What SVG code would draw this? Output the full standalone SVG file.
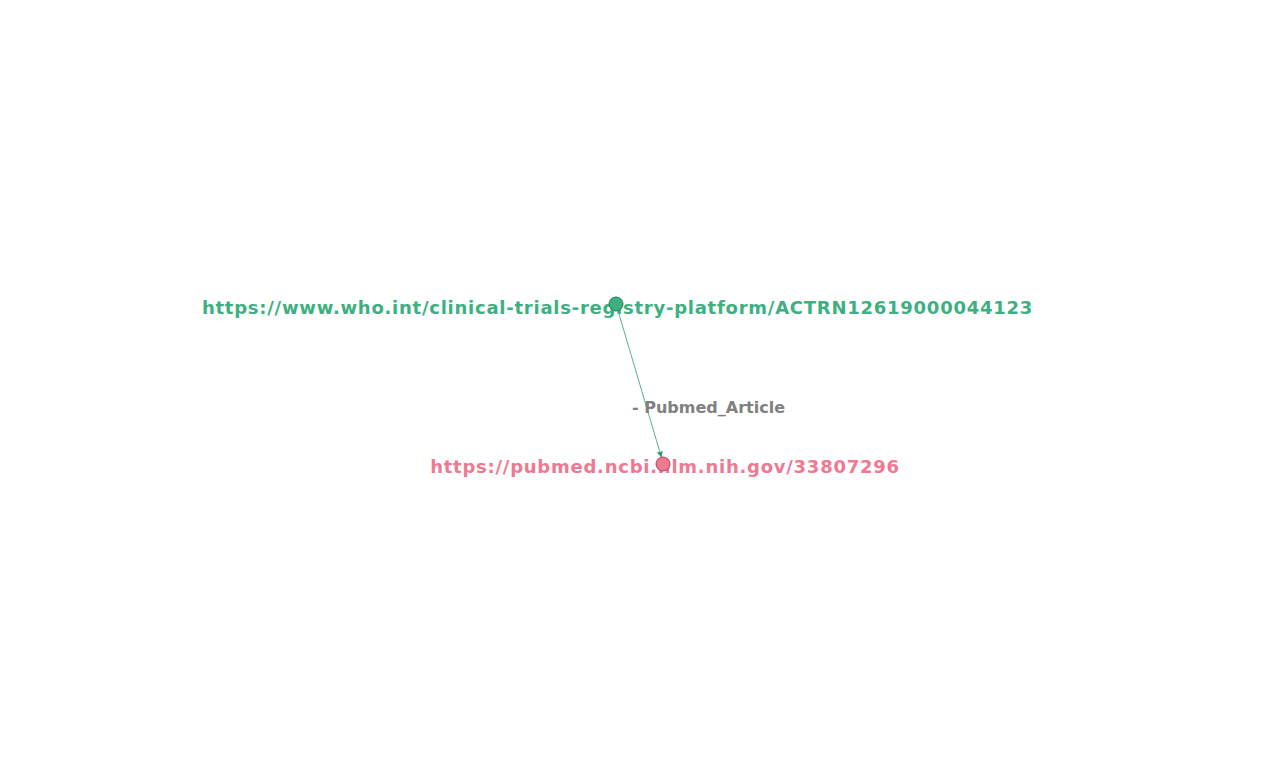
<svg xmlns="http://www.w3.org/2000/svg" width="1280" height="768" viewBox="0 0 1280 768">
<style>
.lbl{font-family:"DejaVu Sans",sans-serif;font-weight:bold;font-size:18px;letter-spacing:0.75px;text-anchor:middle}
.elbl{font-family:"DejaVu Sans",sans-serif;font-weight:bold;font-size:16px;fill:#808080}
</style>
<defs>
<marker id="arr" viewBox="0 0 10 10" refX="10" refY="5" markerWidth="6" markerHeight="6" orient="auto" markerUnits="userSpaceOnUse">
<path d="M0,0 L10,5 L0,10 z" fill="#2e9e6e"/>
</marker>
</defs>
<rect width="1280" height="768" fill="#ffffff"/>
<g id="connectors">
<line x1="616" y1="304" x2="661.5" y2="457.5" stroke="#2e9e6e" stroke-width="0.8" marker-end="url(#arr)"/>
<text class="elbl" x="632" y="413">- Pubmed_Article</text>
</g>
<g id="node-who">
<text class="lbl" x="617.5" y="314" fill="#3cb080">https://www.who.int/clinical-trials-registry-platform/ACTRN12619000044123</text>
<circle cx="616" cy="304" r="7" fill="#3cb080" stroke="#2a7a58" stroke-width="1"/>
</g>
<g id="node-pubmed">
<text class="lbl" x="665" y="473" fill="#f07890">https://pubmed.ncbi.nlm.nih.gov/33807296</text>
<circle cx="663" cy="464" r="7" fill="#f07890" stroke="#a04a5a" stroke-width="1"/>
</g>
</svg>
